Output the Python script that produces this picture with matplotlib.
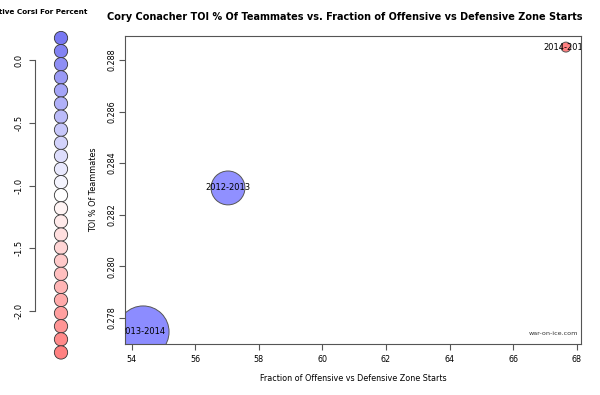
import numpy as np
import matplotlib
matplotlib.use("Agg")
import matplotlib.pyplot as plt

# data
seasons = ["2012-2013", "2013-2014", "2014-2015"]
ozs_frac = [57.03, 54.36, 67.66]
toi_pct = [0.28304, 0.27746, 0.2885]
toi_minutes = [640, 1500, 55]
season_colors = ["#9090ff", "#8c8cff", "#ff8080"]

legend_ticks = [0.0, -0.5, -1.0, -1.5, -2.0]
x_ticks = [54, 56, 58, 60, 62, 64, 66, 68]
y_ticks = [0.278, 0.280, 0.282, 0.284, 0.286, 0.288]

fig = plt.figure(figsize=(6, 3.95), dpi=100)

# ---- left colour legend ----
lax = fig.add_axes([0, 0, 0.2, 1])
lax.set_xlim(0, 120)
lax.set_ylim(-2.669, 0.478)
n = 25
levels = np.linspace(0.175, -2.33, n)
blue = np.array([0.47, 0.47, 0.95])
red = np.array([1.0, 0.5, 0.5])
white = np.array([1.0, 1.0, 1.0])
cols = []
for i in range(n):
    if i < 12:
        t = i / 12
        cols.append(blue * (1 - t) + white * t)
    else:
        t = (i - 12) / 12
        cols.append(white * (1 - t) + red * t)
lax.scatter([61] * n, levels, s=92, c=cols, edgecolors="#333333", linewidths=0.6, clip_on=False)
for s in ["top", "right", "bottom"]:
    lax.spines[s].set_visible(False)
lax.spines["left"].set_position(("data", 35))
lax.spines["left"].set_bounds(-2.0, 0.0)
lax.spines["left"].set_color("#555555")
lax.set_yticks(legend_ticks)
lax.set_yticklabels(["0.0", "-0.5", "-1.0", "-1.5", "-2.0"], rotation=90, va="center", fontsize=6)
lax.tick_params(axis="y", length=4, color="#555555", pad=4)
lax.set_xticks([])
lax.patch.set_alpha(0)
fig.text(87 / 600, 1 - 12 / 395, "Relative Corsi For Percent", ha="right", va="center",
         fontsize=5.2, fontweight="bold")

# ---- main bubble plot ----
ax = fig.add_axes([125 / 600, 51 / 395, 455.7 / 600, 308 / 395])
ax.scatter(ozs_frac, toi_pct, s=np.array(toi_minutes) * 0.93, c=season_colors,
           edgecolors="#555555", linewidths=0.7, zorder=2)
for x, y, lab in zip(ozs_frac, toi_pct, seasons):
    ax.text(x, y, lab, ha="center", va="center", fontsize=6, clip_on=True, zorder=3)
ax.set_xlim(53.79, 68.125)
ax.set_ylim(0.27699, 0.28893)
ax.set_xticks(x_ticks)
ax.set_yticks(y_ticks)
ax.set_xticklabels([str(v) for v in x_ticks], fontsize=5.8)
ax.set_yticklabels(["%.3f" % v for v in y_ticks], fontsize=5.8, rotation=90, va="center")
ax.tick_params(axis="x", length=4, color="#555555", pad=4)
ax.tick_params(axis="y", length=4, color="#555555", pad=2)
for s in ax.spines.values():
    s.set_color("#555555")
ax.set_xlabel("Fraction of Offensive vs Defensive Zone Starts", fontsize=5.8, labelpad=7)
ax.set_ylabel("TOI % Of Teammates", fontsize=5.8, labelpad=7)
ax.text(0.995, 0.025, "war-on-ice.com", transform=ax.transAxes, ha="right", va="bottom",
        fontsize=4.6, color="#333333")

fig.text(345 / 600, 1 - 17 / 395, "Cory Conacher TOI % Of Teammates vs. Fraction of Offensive vs Defensive Zone Starts",
         ha="center", va="center", fontsize=7.0, fontweight="bold")

fig.savefig("out.png", dpi=100)
